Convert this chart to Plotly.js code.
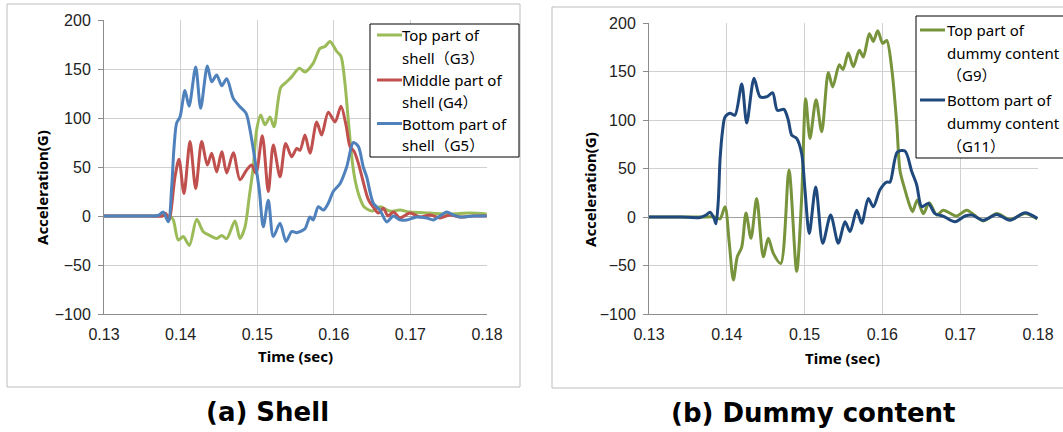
<!DOCTYPE html>
<html>
<head>
<meta charset="utf-8">
<script src="https://cdn.plot.ly/plotly-3.0.1.min.js"></script>
<style>html,body{margin:0;padding:0;background:#fff;}#chart{width:1063px;height:432px;}</style>
</head>
<body>
<div id="chart"></div>
<script>
// ---------- DATA ----------
const shellTimeG3 = [0.13,0.136,0.13862,0.13905,0.1397,0.14035,0.14114,0.1421,0.14296,0.14384,0.14471,0.14537,0.14602,0.1471,0.14775,0.14841,0.14897,0.14949,0.14993,0.15046,0.15102,0.15167,0.15219,0.15307,0.15385,0.1545,0.1555,0.15624,0.15732,0.1582,0.15885,0.1595,0.16038,0.16094,0.16146,0.16189,0.16234,0.16277,0.16333,0.16394,0.16499,0.16603,0.16734,0.16864,0.16995,0.17256,0.17517,0.17778,0.17996];
const shellG3 =     [0,0,0,-4,-24.5,-21,-30,-3.4,-16,-20,-23,-20,-23,-5,-23,-11,20,50,88,103,93,101,91,131,137,142,150.7,147,156,171,173,178,168,163,135,98,60.5,37,20,9.5,5,9.5,5,6,4,3,2,3,2];

const shellTimeG4 = [0.13,0.136,0.13766,0.13805,0.13849,0.13927,0.13979,0.14044,0.14123,0.14197,0.14275,0.14349,0.14406,0.14471,0.14537,0.14602,0.14688,0.14775,0.14862,0.14928,0.14984,0.15067,0.15145,0.1521,0.15298,0.15372,0.1545,0.15516,0.15559,0.15624,0.15689,0.15777,0.15841,0.15928,0.16016,0.16094,0.16159,0.16211,0.16264,0.1632,0.16377,0.1645,0.16516,0.16581,0.16646,0.16708,0.16777,0.16864,0.16995,0.17125,0.17256,0.17386,0.17517,0.17648,0.17821,0.17996];
const shellG4 =     [0,0,0,2.7,-4,40,58,23,76,28,76,52,64,45,65.5,44,64.6,37,47,52,43.5,82,25,72.5,40,74,60.5,69,67,82.6,64,96,82.6,106,96,112,93,71,66,54,37,17,9,3,8,0,4,-2,3,-1,1,-2,1,-1,0,0];

const shellTimeG5 = [0.13,0.136,0.13705,0.13774,0.13839,0.13884,0.13914,0.13949,0.13992,0.14057,0.1411,0.14197,0.14262,0.14349,0.14406,0.14471,0.14537,0.14602,0.14688,0.14775,0.14854,0.14906,0.14971,0.15027,0.1508,0.15145,0.1521,0.15298,0.15376,0.1545,0.15516,0.15559,0.15624,0.15689,0.15732,0.15798,0.15863,0.15928,0.15993,0.16081,0.16168,0.16255,0.1632,0.16385,0.16429,0.16516,0.16603,0.16691,0.16777,0.16864,0.16952,0.17082,0.17213,0.17299,0.17386,0.17474,0.1756,0.17648,0.17821,0.17996];
const shellG5 =     [0,0,0.5,4,-6,30,70,95,101,128,112,152,110,153,137,144,133,140,120,111.5,105,88,57,26.5,-11,16,-21,-7.5,-26,-16,-17,-16,-13,-1,-4,9.5,6,13,25,33,50,75,71,50,40,13,6,-6,0,-4,-4,-1,-2,-4,0,4,1,-1,0,0];

const dummyTimeG9 = [0.13,0.13656,0.13848,0.13913,0.13977,0.14032,0.14084,0.14135,0.14192,0.14247,0.14311,0.14384,0.14469,0.14533,0.14598,0.14693,0.14799,0.14898,0.14963,0.15014,0.15069,0.15147,0.1522,0.15305,0.15361,0.15446,0.15494,0.15562,0.15626,0.15703,0.15755,0.15832,0.15883,0.1594,0.16004,0.16055,0.1612,0.16184,0.16226,0.1629,0.16364,0.16389,0.16449,0.16526,0.16603,0.16698,0.16783,0.16955,0.17084,0.17297,0.17469,0.1764,0.17833,0.17991];
const dummyG9 =     [0,0,0,-2,10.6,-27,-65,-41,-31,4,-22,19,-41,-22,-37.5,-48,48.5,-56,21,122,81,121,88,149,134,157,152,169,155,172,165,189,181,192,179,182,153,96.6,48,28,9,5.5,17.5,3.4,14.8,2,7,1,7,-4,3.5,-2.5,3.5,-2];

const dummyTimeG11 = [0.13,0.13398,0.13656,0.13733,0.13784,0.13835,0.13861,0.13891,0.13913,0.13947,0.13977,0.14041,0.14105,0.14192,0.14256,0.1435,0.14427,0.14513,0.1459,0.14649,0.14735,0.1479,0.14834,0.14898,0.14963,0.15005,0.1506,0.15143,0.15233,0.15335,0.15433,0.15519,0.15584,0.1567,0.15734,0.15819,0.15883,0.15969,0.16055,0.16098,0.16191,0.1629,0.16377,0.16441,0.16505,0.1659,0.16676,0.16779,0.16933,0.17062,0.17152,0.17297,0.17469,0.1764,0.17833,0.17991];
const dummyG11 =     [0,0,-0.5,2,5,-1,-7,17,59,90,103,107,105,137,97,143,124,124,128,110,111,100,84.5,81,65,28,-17,31,-27,2,-27,-5,-15,7,-6.5,19,10.6,28,36,36,67,68,47,33,10.6,14,3.5,1,-5,1,2,-3.4,2.7,-3.4,4.5,-1.5];

const shellNames = [["Top part of","shell（G3）"],["Middle part of","shell (G4）"],["Bottom part of","shell（G5）"]];
const dummyNames = [["Top part of","dummy content","（G9）"],["Bottom part of","dummy content","（G11）"]];
const shellColors = ["#9BBB59","#C0504D","#4F81BD"];
const dummyColors = ["#77933C","#1F497D"];
const yTitle = "Acceleration(G)";
const xTitle = "Time (sec)";
const captions = ["(a) Shell","(b) Dummy content"];

// ---------- LAYOUT HELPERS ----------
const W = 1063, H = 432;
const px = x => x / W;
const py = y => 1 - y / H;

const traces = [];
[[shellTimeG3,shellG3],[shellTimeG4,shellG4],[shellTimeG5,shellG5]].forEach((d,i)=>{
  traces.push({x:d[0],y:d[1],type:'scatter',mode:'lines',xaxis:'x',yaxis:'y',
    line:{color:shellColors[i],width:3,shape:'spline',smoothing:0.8},hoverinfo:'skip',showlegend:false});
});
[[dummyTimeG9,dummyG9],[dummyTimeG11,dummyG11]].forEach((d,i)=>{
  traces.push({x:d[0],y:d[1],type:'scatter',mode:'lines',xaxis:'x2',yaxis:'y2',
    line:{color:dummyColors[i],width:3,shape:'spline',smoothing:0.8},hoverinfo:'skip',showlegend:false});
});

const tickFont = {family:'Liberation Sans, Arial, sans-serif',size:16,color:'#222'};
function xax(dom){return {domain:dom,range:[0.13,0.18],tick0:0.13,dtick:0.01,tickformat:'.2f',
  showgrid:true,gridcolor:'#d0d0d0',gridwidth:1,showline:true,linecolor:'#8c8c8c',linewidth:1,
  zeroline:false,ticks:'',tickfont:tickFont,ticklabelstandoff:6,fixedrange:true};}
function yax(dom,anchor){return {domain:dom,anchor:anchor,range:[-100,200],tick0:-100,dtick:50,
  showgrid:true,gridcolor:'#d0d0d0',gridwidth:1,showline:true,linecolor:'#8c8c8c',linewidth:1,
  zeroline:true,zerolinecolor:'#a0a0a0',zerolinewidth:1,ticks:'outside',ticklen:5,tickcolor:'#8c8c8c',
  tickfont:tickFont,ticklabelstandoff:4,fixedrange:true};}

const shapes = [
  {type:'rect',xref:'paper',yref:'paper',x0:px(7),x1:px(520),y0:py(387),y1:py(4),line:{color:'#bdbdbd',width:1},layer:'below'},
  {type:'rect',xref:'paper',yref:'paper',x0:px(552),x1:px(1075),y0:py(388),y1:py(7),line:{color:'#bdbdbd',width:1},layer:'below'},
  {type:'rect',xref:'paper',yref:'paper',x0:px(370),x1:px(519),y0:py(157),y1:py(24),line:{color:'#000',width:1},fillcolor:'#fff'},
  {type:'rect',xref:'paper',yref:'paper',x0:px(916),x1:px(1075),y0:py(158),y1:py(16),line:{color:'#000',width:1},fillcolor:'#fff'}
];
const annotations = [];
const legFont = {family:'Noto Sans, Noto Sans CJK JP, sans-serif',size:15,color:'#000'};
// shell legend
const shellLineY = [35,58,80,102,123.5,145];
let k = 0;
shellNames.forEach((nm,i)=>{
  shapes.push({type:'line',xref:'paper',yref:'paper',x0:px(377),x1:px(402),y0:py(shellLineY[k]),y1:py(shellLineY[k]),line:{color:shellColors[i],width:3}});
  nm.forEach(s=>{annotations.push({xref:'paper',yref:'paper',x:px(400),y:py(shellLineY[k]),xanchor:'left',yanchor:'middle',text:s,showarrow:false,font:legFont});k++;});
});
const dummyLineY = [30,52.7,75,100,123.3,146];
k = 0;
dummyNames.forEach((nm,i)=>{
  shapes.push({type:'line',xref:'paper',yref:'paper',x0:px(920),x1:px(945),y0:py(dummyLineY[k]),y1:py(dummyLineY[k]),line:{color:dummyColors[i],width:3}});
  nm.forEach(s=>{annotations.push({xref:'paper',yref:'paper',x:px(944.5),y:py(dummyLineY[k]),xanchor:'left',yanchor:'middle',text:s,showarrow:false,font:legFont});k++;});
});
const titleFont = {family:'Noto Sans, Noto Sans CJK JP, sans-serif',size:15,color:'#000',weight:'bold'};
annotations.push({xref:'paper',yref:'paper',x:px(42),y:py(188),text:'<b>'+yTitle+'</b>',textangle:-90,showarrow:false,font:titleFont,xanchor:'center',yanchor:'middle'});
annotations.push({xref:'paper',yref:'paper',x:px(590),y:py(190),text:'<b>'+yTitle+'</b>',textangle:-90,showarrow:false,font:titleFont,xanchor:'center',yanchor:'middle'});
annotations.push({xref:'paper',yref:'paper',x:px(295),y:py(356),text:'<b>'+xTitle+'</b>',showarrow:false,font:titleFont,xanchor:'center',yanchor:'middle'});
annotations.push({xref:'paper',yref:'paper',x:px(842),y:py(358),text:'<b>'+xTitle+'</b>',showarrow:false,font:titleFont,xanchor:'center',yanchor:'middle'});
const capFont = {family:'DejaVu Sans, sans-serif',size:26,color:'#000'};
annotations.push({xref:'paper',yref:'paper',x:px(267),y:py(412),text:'<b>'+captions[0]+'</b>',showarrow:false,font:capFont,xanchor:'center',yanchor:'middle'});
annotations.push({xref:'paper',yref:'paper',x:px(813),y:py(413),text:'<b>'+captions[1]+'</b>',showarrow:false,font:capFont,xanchor:'center',yanchor:'middle'});

const layout = {
  width:W,height:H,margin:{l:0,r:0,t:0,b:0},paper_bgcolor:'#fff',plot_bgcolor:'#fff',showlegend:false,
  xaxis:xax([px(104),px(487)]), yaxis:yax([py(314),py(20)],'x'),
  xaxis2:Object.assign(xax([px(649),px(1038)]),{anchor:'y2'}), yaxis2:yax([py(314),py(23)],'x2'),
  shapes:shapes, annotations:annotations
};
layout.xaxis.anchor='y';
Plotly.newPlot('chart',traces,layout,{staticPlot:true,displayModeBar:false});
</script>
</body>
</html>
